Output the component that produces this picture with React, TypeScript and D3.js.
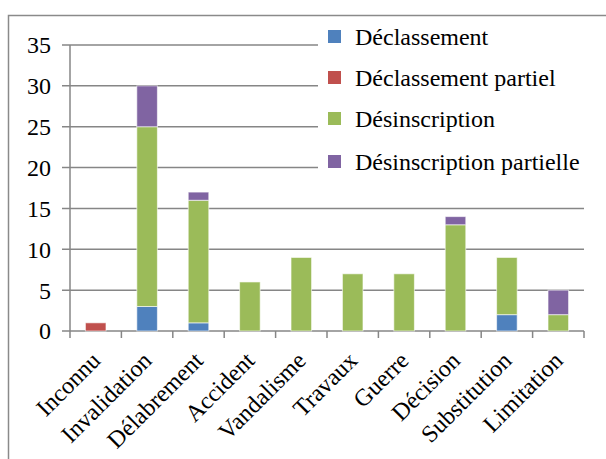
import React from "react";
import * as d3 from "d3";

const categories = ["Inconnu", "Invalidation", "Délabrement", "Accident", "Vandalisme", "Travaux", "Guerre", "Décision", "Substitution", "Limitation"];
const seriesNames = ["Déclassement", "Déclassement partiel", "Désinscription", "Désinscription partielle"];
const declassement = [0, 3, 1, 0, 0, 0, 0, 0, 2, 0];
const declassementPartiel = [1, 0, 0, 0, 0, 0, 0, 0, 0, 0];
const desinscription = [0, 22, 15, 6, 9, 7, 7, 13, 7, 2];
const desinscriptionPartielle = [0, 5, 1, 0, 0, 0, 0, 1, 0, 3];
const yTicks = [0, 5, 10, 15, 20, 25, 30, 35];
const colors = ["#4F81BD", "#C0504D", "#9BBB59", "#8064A2"];

const W = 606;
const H = 459;
const font = "Liberation Serif";

export default function App() {
  const rows = categories.map((c, i) => ({
    cat: c,
    s0: declassement[i],
    s1: declassementPartiel[i],
    s2: desinscription[i],
    s3: desinscriptionPartielle[i],
  }));
  const keys = ["s0", "s1", "s2", "s3"];
  const stacked = d3.stack<any>().keys(keys)(rows);

  const x = d3.scaleBand().domain(categories).range([70, 584]).paddingInner(0.6).paddingOuter(0.3);
  const xb = d3.scaleBand().domain(categories).range([70, 584]);
  const y = d3.scaleLinear().domain([0, 35]).range([331, 45]);

  // baselines of legend rows
  const legendY = [45, 86, 127, 170];

  return (
    <svg width={W} height={H} style={{ position: "absolute", left: 0, top: 0 }}>
      <rect x={0} y={0} width={W} height={H} fill="#fff" />
      <rect x={8.5} y={15.5} width={W + 10} height={H + 10} fill="none" stroke="#8a8a8a" strokeWidth={1.5} />

      {yTicks.map((t) => (
        <g key={t}>
          <line x1={62} x2={584} y1={y(t)} y2={y(t)} stroke="#868686" strokeWidth={1.5} />
          <text x={51} y={y(t)} dy="0.35em" textAnchor="end" fontSize={24} fill="#000" style={{ fontFamily: font }}>{t}</text>
        </g>
      ))}
      <line x1={70} x2={70} y1={y(35)} y2={y(0)} stroke="#868686" strokeWidth={1.5} />

      {stacked.map((layer, li) => (
        <g key={li} fill={colors[li]}>
          {layer.map((d, i) => {
            const h = y(d[0]) - y(d[1]);
            if (h <= 0) return null;
            return (
              <rect key={i} x={x(categories[i])} y={y(d[1])} width={x.bandwidth()} height={h} stroke="#ffffff" strokeOpacity={0.6} strokeWidth={1} />
            );
          })}
        </g>
      ))}

      {d3.range(categories.length + 1).map((i) => {
        const px = 70 + i * xb.bandwidth();
        return <line key={i} x1={px} x2={px} y1={y(0)} y2={y(0) + 7} stroke="#868686" strokeWidth={1.5} />;
      })}

      {categories.map((c) => {
        const cx = (xb(c) ?? 0) + xb.bandwidth() / 2 + 6;
        return (
          <text key={c} transform={`translate(${cx},${y(0) + 31}) rotate(-45)`} textAnchor="end" fontSize={24} fill="#000" style={{ fontFamily: font }}>
            {c}
          </text>
        );
      })}

      <rect x={318} y={20} width={280} height={166} fill="#fff" />
      {seriesNames.map((n, i) => (
        <g key={n}>
          <rect x={328} y={legendY[i] - 15} width={13} height={13} fill={colors[i]} />
          <text x={355} y={legendY[i]} fontSize={24} fill="#000" style={{ fontFamily: font }}>{n}</text>
        </g>
      ))}
    </svg>
  );
}
